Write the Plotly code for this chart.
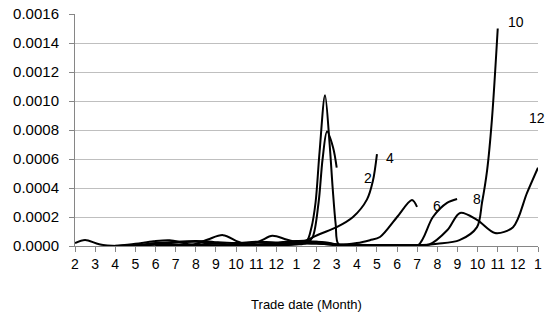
import plotly.graph_objects as go

# Category tick labels (trade month)
months = ["2", "3", "4", "5", "6", "7", "8", "9", "10", "11", "12", "1",
          "2", "3", "4", "5", "6", "7", "8", "9", "10", "11", "12", "1"]

# Series positions (category index, fractional) and values
x12 = [0, 0.5, 1.2, 2.1, 3, 4, 5, 5.9, 6.6, 7.35, 8.1, 8.6, 9.2, 9.8, 10.5, 11.2, 12, 13, 14, 15, 16, 17,
       17.6, 18.5, 19.13, 19.97, 20.86, 21.76, 22.45, 23]
y12 = [0.20e-4, 0.42e-4, 0.12e-4, 0.0, 0.05e-4, 0.10e-4, 0.10e-4, 0.10e-4, 0.45e-4, 0.75e-4, 0.30e-4, 0.10e-4,
       0.35e-4, 0.70e-4, 0.45e-4, 0.20e-4, 0.15e-4, 0.10e-4, 0.08e-4, 0.05e-4, 0.05e-4, 0.05e-4,
       0.10e-4, 1.10e-4, 2.28e-4, 1.80e-4, 0.90e-4, 1.30e-4, 3.65e-4, 5.40e-4]

x10 = [2, 3, 3.9, 4.7, 5.4, 6, 7, 8, 9, 10, 11, 12, 13, 14, 15, 16, 17, 18, 19.1, 19.97, 20.22, 20.47, 20.71, 21]
y10 = [0.0, 0.15e-4, 0.33e-4, 0.40e-4, 0.20e-4, 0.05e-4, 0.25e-4, 0.20e-4, 0.30e-4, 0.25e-4, 0.35e-4, 0.30e-4,
       0.10e-4, 0.05e-4, 0.05e-4, 0.05e-4, 0.05e-4, 0.15e-4, 0.40e-4, 1.30e-4, 3.00e-4, 5.20e-4, 8.70e-4, 15.0e-4]

x8 = [2, 3, 4, 5, 6, 6.8, 7.6, 8.4, 9.2, 10, 10.8, 11.5, 12, 13, 14, 15, 16, 17.04, 17.78, 18.48, 18.98]
y8 = [0.02e-4, 0.05e-4, 0.20e-4, 0.30e-4, 0.35e-4, 0.30e-4, 0.10e-4, 0.20e-4, 0.25e-4, 0.10e-4, 0.30e-4,
      0.35e-4, 0.20e-4, 0.05e-4, 0.02e-4, 0.02e-4, 0.02e-4, 0.05e-4, 2.00e-4, 2.97e-4, 3.24e-4]

x6 = [3, 4, 5, 6, 7, 8, 9, 10, 11, 12, 12.5, 13, 14, 14.65, 15.15, 16.0, 16.74, 16.99]
y6 = [0.0, 0.10e-4, 0.25e-4, 0.30e-4, 0.20e-4, 0.05e-4, 0.10e-4, 0.15e-4, 0.20e-4, 0.30e-4, 0.25e-4, 0.10e-4,
      0.20e-4, 0.40e-4, 0.62e-4, 2.00e-4, 3.17e-4, 2.70e-4]

x4 = [4, 5, 6, 7, 8, 9, 10, 11, 11.5, 12.17, 13, 13.81, 14.5, 14.8, 15]
y4 = [0.0, 0.05e-4, 0.10e-4, 0.05e-4, 0.05e-4, 0.10e-4, 0.10e-4, 0.20e-4, 0.40e-4, 0.83e-4, 1.30e-4, 2.00e-4,
      3.20e-4, 4.50e-4, 6.34e-4]

x2 = [4, 5, 6, 7, 8, 9, 10, 11, 11.5, 11.8, 12.1, 12.3, 12.52, 12.82, 13]
y2 = [0.0, 0.02e-4, 0.05e-4, 0.05e-4, 0.02e-4, 0.05e-4, 0.05e-4, 0.10e-4, 0.20e-4, 0.60e-4, 3.00e-4, 6.00e-4,
      7.90e-4, 6.80e-4, 5.40e-4]

xT = [5, 6, 7, 8, 9, 10, 11, 11.5, 11.75, 11.95, 12.15, 12.42, 12.65, 12.8, 12.95, 13.1, 14, 15, 16, 17]
yT = [0.0, 0.02e-4, 0.02e-4, 0.02e-4, 0.05e-4, 0.05e-4, 0.15e-4, 0.30e-4, 1.30e-4, 3.00e-4, 6.50e-4, 10.4e-4,
      7.00e-4, 4.00e-4, 1.50e-4, 0.10e-4, 0.05e-4, 0.05e-4, 0.05e-4, 0.05e-4]

series = [("12", x12, y12), ("10", x10, y10), ("8", x8, y8), ("6", x6, y6),
          ("4", x4, y4), ("2", x2, y2), ("", xT, yT)]

# curve label text and anchor spots (category index, value)
labels = ["2", "4", "6", "8", "10", "12"]
label_x = [14.55, 15.65, 18.0, 19.97, 21.9, 23.0]
label_y = [4.69e-4, 6.07e-4, 2.76e-4, 3.24e-4, 15.45e-4, 8.83e-4]
label_anchor = ["center", "center", "center", "center", "center", "right"]
label_shift = [0, 0, 0, 0, 0, 9]

fig = go.Figure()
for name, xs, ys in series:
    fig.add_trace(go.Scatter(x=xs, y=ys, mode="lines", name=name,
                             line=dict(color="black", width=2, shape="spline", smoothing=0.9),
                             showlegend=False, hoverinfo="skip", cliponaxis=True))

for t, lx, ly, anc, sh in zip(labels, label_x, label_y, label_anchor, label_shift):
    fig.add_annotation(x=lx, y=ly, text=t, showarrow=False, xanchor=anc, xshift=sh,
                       font=dict(size=14, color="black", family="Liberation Sans, Arial"))

axis_gray = "#868686"
fig.update_layout(
    width=547, height=320,
    margin=dict(l=75, r=9, t=14, b=74, autoexpand=False),
    paper_bgcolor="white", plot_bgcolor="white",
    font=dict(family="Liberation Sans, Arial", color="black", size=14),
    xaxis=dict(range=[0, 23], tickmode="array", tickvals=list(range(len(months))), ticktext=months,
               showgrid=False, zeroline=False, showline=True, linecolor=axis_gray, linewidth=1,
               ticks="outside", ticklen=5, tickcolor=axis_gray, tickangle=0, automargin=False,
               tickfont=dict(size=14),
               title=dict(text="Trade date (Month)", font=dict(size=13), standoff=29)),
    yaxis=dict(range=[0, 0.0016], dtick=0.0002, tick0=0, tickformat=".4f", automargin=False,
               showgrid=True, gridcolor="#bfbfbf", gridwidth=1, zeroline=False,
               showline=True, linecolor=axis_gray, linewidth=1,
               ticks="outside", ticklen=5, tickcolor=axis_gray, ticklabelstandoff=7,
               tickfont=dict(size=15)),
)

# remove the page's default body margin so the figure fills the window exactly
fig.write_html("out.html", config={"displayModeBar": False},
               post_script="document.body.style.margin='0';document.body.style.overflow='hidden';")
